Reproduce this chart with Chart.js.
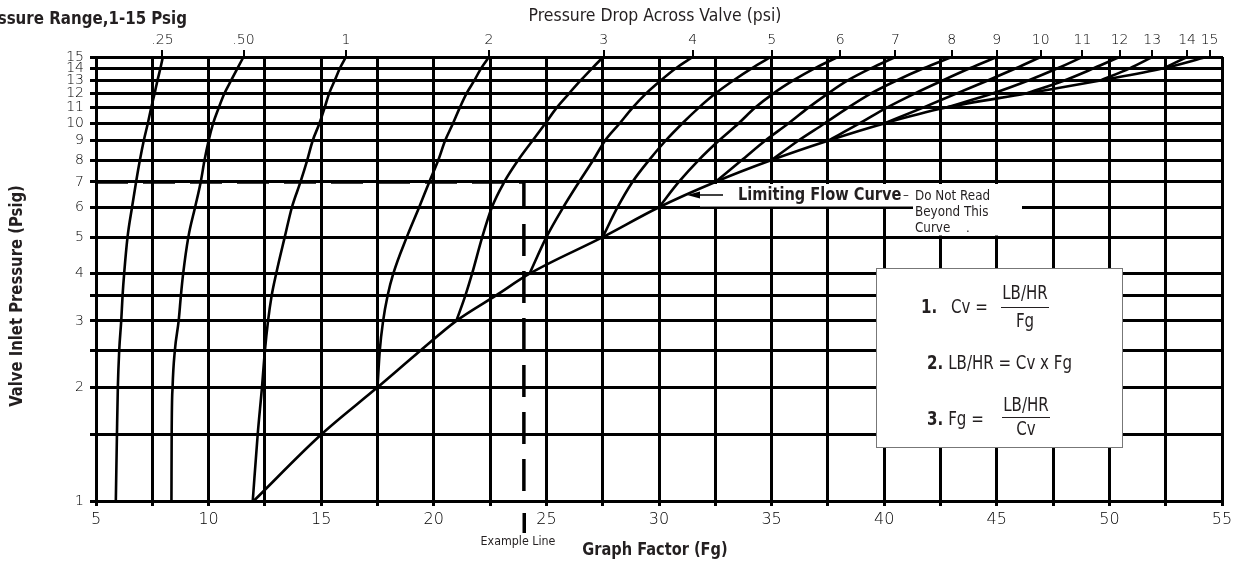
<!DOCTYPE html>
<html>
<head>
<meta charset="utf-8">
<script src="https://cdn.jsdelivr.net/npm/chart.js@4.4.1/dist/chart.umd.min.js"></script>
<style>
  html, body { margin: 0; padding: 0; background: #fff; }
</style>
</head>
<body>
<canvas id="fgChart" width="1238" height="565"></canvas>
<script>
// Inlet pressure levels (psig), one horizontal grid line each
const inletPsig = [1, 1.5, 2, 2.5, 3, 3.5, 4, 5, 6, 7, 8, 9, 10, 11, 12, 13, 14, 15];
const inletLabels = [1, 2, 3, 4, 5, 6, 7, 8, 9, 10, 11, 12, 13, 14, 15];

// Graph factor grid lines and labelled values
const fgGrid = [5, 7.5, 10, 12.5, 15, 17.5, 20, 22.5, 25, 27.5, 30, 32.5, 35, 37.5, 40, 42.5, 45, 47.5, 50, 52.5, 55];
const fgLabels = [5, 10, 15, 20, 25, 30, 35, 40, 45, 50, 55];

// Pressure drop scale along the top (label + Fg where the curve ends at 15 psig)
const dropLabels = ['.25', '.50', '1', '2', '3', '4', '5', '6', '7', '8', '9', '10', '11', '12', '13', '14', '15'];
const dropTopFg = [7.95, 11.55, 16.1, 22.45, 27.55, 31.5, 35.0, 38.05, 40.5, 43.0, 45.0, 46.95, 48.8, 50.45, 51.9, 53.45, 54.45];

// Fg; every list ends at 15 psig
// and starts at the limiting flow curve (or at 1 psig)
const drop025 = [5.88, 5.93, 5.97, 6.03, 6.12, 6.18, 6.25, 6.4, 6.6, 6.78, 6.95, 7.12, 7.3, 7.45, 7.6, 7.73, 7.86, 7.97];
const drop050 = [8.35, 8.36, 8.4, 8.5, 8.67, 8.77, 8.87, 9.1, 9.4, 9.65, 9.82, 10.0, 10.2, 10.45, 10.7, 11.0, 11.28, 11.55];
const drop1 = [11.96, 12.18, 12.37, 12.5, 12.64, 12.8, 13.0, 13.38, 13.7, 14.08, 14.38, 14.62, 14.92, 15.15, 15.35, 15.6, 15.83, 16.1];
const drop2 = [17.5, 17.6, 17.75, 17.95, 18.2, 18.8, 19.35, 19.8, 20.2, 20.5, 20.85, 21.15, 21.45, 21.8, 22.1, 22.45];
const drop3 = [21.0, 21.4, 21.7, 22.15, 22.58, 23.13, 23.75, 24.38, 24.95, 25.45, 26.0, 26.52, 27.03, 27.52];
const drop4 = [24.25, 25.0, 25.75, 26.45, 27.08, 27.6, 28.25, 28.82, 29.42, 30.08, 30.75, 31.5];
const drop5 = [27.5, 28.16, 28.82, 29.56, 30.29, 31.03, 31.76, 32.5, 33.3, 34.12, 34.97];
const drop6 = [30.0, 30.88, 31.76, 32.65, 33.53, 34.26, 35.07, 35.96, 36.91, 37.94];
const drop7 = [32.5, 33.68, 34.71, 35.74, 36.62, 37.5, 38.38, 39.41, 40.5];
const drop8 = [35.0, 36.18, 37.35, 38.38, 39.4, 40.55, 41.75, 43.0];
const drop9 = [37.5, 38.9, 40.1, 41.35, 42.6, 43.8, 45.0];
const drop10 = [40.0, 41.7, 43.2, 44.6, 45.85, 46.95];
const drop11 = [42.7, 44.8, 46.4, 47.7, 48.8];
const drop12 = [46.3, 48.0, 49.3, 50.45];
const drop13 = [49.6, 50.9, 51.9];
const drop14 = [52.4, 53.45];

// Limiting flow curve, Fg at each inlet level
const limitingFlow = [12.0, 15.0, 17.5, 19.4, 21.0, 22.75, 24.25, 27.5, 30.0, 32.5, 35.0, 37.5, 40.0, 42.7, 46.3, 49.6, 52.4, 54.3];

// Example line: across at 7 psig, down at Fg 24
const exampleFg = [5, 24, 24];
const examplePsig = [7, 7, 1];

const narrow = '"Liberation Sans Narrow", "Arial Narrow", "DejaVu Sans Condensed", sans-serif';
const thin = '"DejaVu Sans", sans-serif';

// pair a curve with the top end of the inlet levels
function toPoints(fgList) {
    const off = inletPsig.length - fgList.length;
    return fgList.map((fg, i) => ({ x: fg, y: inletPsig[off + i] }));
}

function curve(fgList) {
    return {
        data: toPoints(fgList),
        borderColor: '#000',
        borderWidth: 2.6,
        pointRadius: 0,
        showLine: true,
        cubicInterpolationMode: 'monotone',
        fill: false
    };
}

const allDrops = [drop025, drop050, drop1, drop2, drop3, drop4, drop5, drop6, drop7,
    drop8, drop9, drop10, drop11, drop12, drop13, drop14];

const datasets = allDrops.map(curve);
datasets.push(curve(limitingFlow));
datasets.push({
    data: exampleFg.map((fg, i) => ({ x: fg, y: examplePsig[i] })),
    borderColor: '#000',
    borderWidth: 3.5,
    borderDash: [32, 15],
    pointRadius: 0,
    showLine: true,
    tension: 0
});

// draw text, optionally squeezed horizontally; returns drawn width
function text(ctx, s, x, y, font, align, sx) {
    sx = sx || 1;
    ctx.save();
    ctx.font = font;
    ctx.textAlign = align || 'left';
    ctx.textBaseline = 'middle';
    ctx.translate(x, y);
    ctx.scale(sx, 1);
    ctx.fillText(s, 0, 0);
    const w = ctx.measureText(s).width * sx;
    ctx.restore();
    return w;
}

// white areas behind the limiting curve note (grid hidden there)
const notePlugin = {
    id: 'notes',
    beforeDatasetsDraw(chart) {
        const ctx = chart.ctx;
        ctx.save();
        ctx.fillStyle = '#fff';
        ctx.fillRect(700, 184, 214, 22.5);
        ctx.fillRect(913, 184, 109, 51.5);
        ctx.restore();
    },
    afterDraw(chart) {
        const ctx = chart.ctx;
        const xs = chart.scales.x;
        const area = chart.chartArea;
        ctx.save();
        ctx.fillStyle = '#231f20';

        // titles
        text(ctx, 'Pressure Range,1-15 Psig', 187, 19, 'bold 18px ' + narrow, 'right', 0.93);
        text(ctx, 'Pressure Drop Across Valve (psi)', 655, 16, '18px ' + narrow, 'center', 0.97);
        text(ctx, 'Graph Factor (Fg)', 655, 550, 'bold 18px ' + narrow, 'center', 0.9);
        text(ctx, 'Example Line', 518, 542, '13px ' + narrow, 'center', 0.95);

        ctx.save();
        ctx.translate(18, 296);
        ctx.rotate(-Math.PI / 2);
        text(ctx, 'Valve Inlet Pressure (Psig)', 0, 0, 'bold 17px ' + narrow, 'center', 0.97);
        ctx.restore();

        // example line continues below the axis
        const ex = Math.round(xs.getPixelForValue(exampleFg[1]));
        ctx.fillStyle = '#000';
        ctx.fillRect(ex - 1.5, area.bottom + 12, 3.5, 20);

        // limiting flow note with arrow
        ctx.strokeStyle = '#000';
        ctx.lineWidth = 1.5;
        ctx.beginPath();
        ctx.moveTo(723, 195);
        ctx.lineTo(695, 195);
        ctx.stroke();
        ctx.beginPath();
        ctx.moveTo(687, 195);
        ctx.lineTo(700, 191.5);
        ctx.lineTo(700, 198.5);
        ctx.closePath();
        ctx.fill();

        ctx.fillStyle = '#231f20';
        text(ctx, 'Limiting Flow Curve', 738, 195, 'bold 18px ' + narrow, 'left', 0.9);
        text(ctx, '\u2013', 903, 196, '13px ' + narrow, 'left');
        text(ctx, 'Do Not Read', 915, 196, '14px ' + narrow, 'left', 0.95);
        text(ctx, 'Beyond This', 915, 212, '14px ' + narrow, 'left', 0.95);
        text(ctx, 'Curve', 915, 228, '14px ' + narrow, 'left', 0.95);
        text(ctx, '.', 966, 229, '13px ' + narrow);

        // formula box
        ctx.fillStyle = '#fff';
        ctx.fillRect(876, 268, 246, 179);
        ctx.strokeStyle = '#777';
        ctx.lineWidth = 1;
        ctx.strokeRect(876.5, 268.5, 246, 179);

        ctx.fillStyle = '#231f20';
        ctx.strokeStyle = '#231f20';
        const f = '19px ' + narrow, fb = 'bold 19px ' + narrow, sq = 0.88;
        text(ctx, '1.', 921, 308, fb, 'left', sq);
        text(ctx, 'Cv =', 951, 308, f, 'left', sq);
        text(ctx, 'LB/HR', 1025, 294, f, 'center', sq);
        text(ctx, 'Fg', 1025, 322, f, 'center', sq);
        ctx.beginPath(); ctx.moveTo(1001, 307.5); ctx.lineTo(1049, 307.5); ctx.stroke();

        let w = text(ctx, '2.', 927, 364, fb, 'left', sq);
        text(ctx, 'LB/HR = Cv x Fg', 927 + w + 5, 364, f, 'left', sq);

        w = text(ctx, '3.', 927, 420, fb, 'left', sq);
        text(ctx, 'Fg =', 927 + w + 5, 420, f, 'left', sq);
        text(ctx, 'LB/HR', 1026, 406, f, 'center', sq);
        text(ctx, 'Cv', 1026, 430, f, 'center', sq);
        ctx.beginPath(); ctx.moveTo(1002, 417.5); ctx.lineTo(1050, 417.5); ctx.stroke();

        ctx.restore();
    }
};

const ctx = document.getElementById('fgChart').getContext('2d');

const fgChart = new Chart(ctx, {
    type: 'scatter',
    data: { datasets: datasets },
    options: {
        responsive: false,
        animation: false,
        layout: { padding: { left: 0, right: 16, top: 0, bottom: 0 } },
        plugins: {
            legend: { display: false },
            tooltip: { enabled: false }
        },
        scales: {
            x: {
                type: 'linear',
                position: 'bottom',
                min: 5,
                max: 55,
                afterBuildTicks: s => { s.ticks = fgGrid.map(v => ({ value: v })); },
                afterFit: s => { s.height = 64; },
                ticks: {
                    autoSkip: false,
                    maxRotation: 0,
                    padding: 4,
                    color: '#000',
                    font: { family: thin, size: 16, weight: '200' },
                    callback: v => fgLabels.includes(v) ? String(v) : ''
                },
                grid: { color: '#000', lineWidth: 3, tickLength: 5, tickColor: '#000' },
                border: { color: '#000', width: 3 }
            },
            xTop: {
                type: 'linear',
                position: 'top',
                min: 5,
                max: 55,
                afterBuildTicks: s => { s.ticks = dropTopFg.map(v => ({ value: v })); },
                afterFit: s => { s.height = 57; },
                ticks: {
                    autoSkip: false,
                    maxRotation: 0,
                    padding: 1,
                    color: '#000',
                    font: { family: thin, size: 14, weight: '200' },
                    callback: (v, i) => dropLabels[i]
                },
                grid: { drawOnChartArea: false, color: '#000', lineWidth: 2, tickLength: 7 },
                border: { color: '#000', width: 3 }
            },
            y: {
                type: 'logarithmic',
                min: 1,
                max: 15,
                afterBuildTicks: s => { s.ticks = inletPsig.map(v => ({ value: v })); },
                afterFit: s => { s.width = 96; },
                ticks: {
                    autoSkip: false,
                    padding: 6,
                    color: '#000',
                    font: { family: thin, size: 14, weight: '200' },
                    callback: v => inletLabels.includes(v) ? String(v) : ''
                },
                grid: { color: '#000', lineWidth: 3, tickLength: 6, tickColor: '#000' },
                border: { color: '#000', width: 2 }
            }
        }
    },
    plugins: [notePlugin]
});
</script>
</body>
</html>
